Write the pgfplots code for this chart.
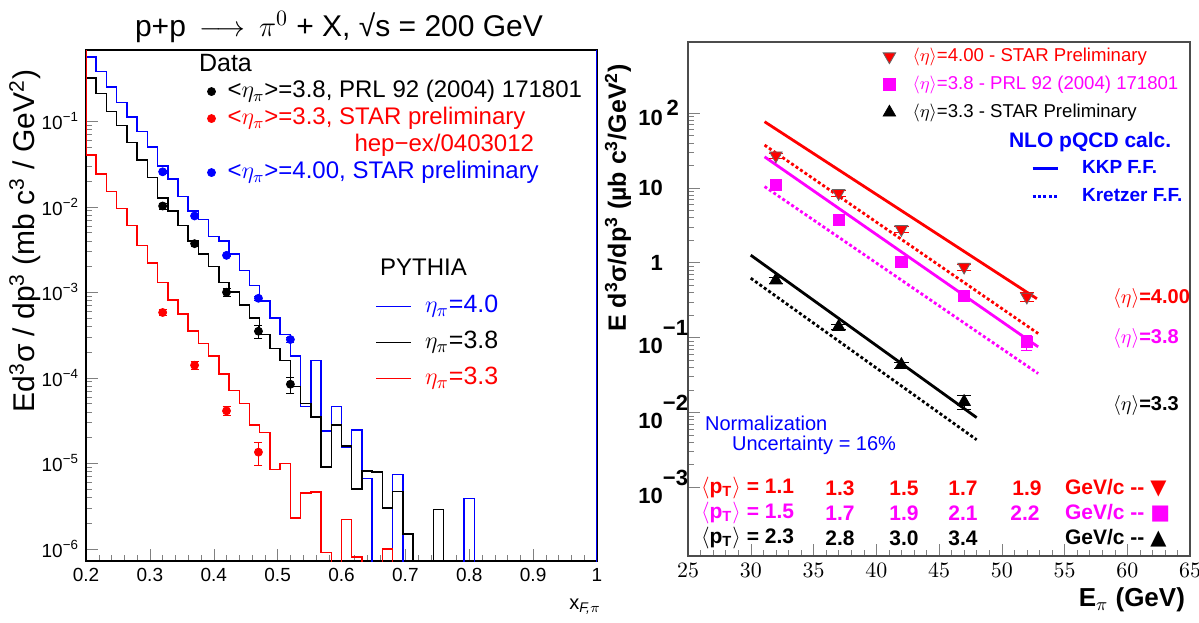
\documentclass[border=0pt]{standalone}
\usepackage{pgfplots}
\pgfplotsset{compat=1.18}
\usepackage{pgfplotstable}
\usepackage{fontspec}
\setmainfont{Liberation Sans}
\newfontfamily\djv{DejaVu Sans}
\definecolor{mag}{RGB}{255,0,255}
\definecolor{rd}{RGB}{255,0,0}
\definecolor{bl}{RGB}{0,0,255}

\pgfplotsset{
  dotleg/.style={legend image code/.code={\draw[##1] plot coordinates {(0pt,0pt)};}},
}

% PYTHIA histograms, left bin edges (bin width 0.016), 1e-9 = empty bin
\pgfplotstableread{
x      blue     black    red
0.184  10       10       10
0.200  0.56     0.32     0.040
0.216  0.38     0.21     0.024
0.232  0.25     0.13     0.015
0.248  0.166    0.089    0.0095
0.264  0.112    0.056    0.0060
0.280  0.076    0.035    0.0035
0.296  0.050    0.022    0.0022
0.312  0.030    0.0126   0.0013
0.328  0.021    0.0089   8.1e-4
0.344  0.0132   0.0060   5.6e-4
0.360  0.0089   0.0040   3.5e-4
0.376  0.0071   0.0028   2.5e-4
0.392  0.0045   0.0020   1.8e-4
0.408  0.0040   0.0013   1.1e-4
0.424  0.0028   0.0010   7.1e-5
0.440  0.0018   7.1e-4   5.0e-5
0.456  0.0012   5.0e-4   2.8e-5
0.472  7.9e-4   3.2e-4   2.3e-5
0.488  5.0e-4   2.2e-4   8.5e-6
0.504  3.2e-4   1.6e-4   1.0e-5
0.520  1.8e-4   7.9e-5   2.3e-6
0.536  4.6e-5   5.0e-5   4.5e-6
0.552  1.6e-4   3.5e-5   4.6e-6
0.568  2.4e-5   9.1e-6   9.0e-7
0.584  4.6e-5   2.8e-5   1e-9
0.600  1.55e-5  1.6e-5   2.2e-6
0.616  2.45e-5  5.0e-6   8.0e-7
0.632  6.6e-6   8.1e-6   1e-9
0.648  1e-9     7.9e-6   1e-9
0.664  1e-9     3.0e-6   1.0e-6
0.680  7.4e-6   4.7e-6   1e-9
0.696  1e-9     1.5e-6   1e-9
0.712  1e-9     1e-9     1e-9
0.728  1e-9     1e-9     1e-9
0.744  1e-9     2.9e-6   1e-9
0.760  1e-9     1e-9     1e-9
0.776  1e-9     1e-9     1e-9
0.792  3.9e-6   1e-9     1e-9
0.808  1e-9     1e-9     1e-9
1.000  10       1e-9     1e-9
1.016  10       1e-9     1e-9
}\hist

\begin{document}
\begin{tikzpicture}[x=0.5pt,y=-0.5pt]
\useasboundingbox (0,0) rectangle (1199,622);

% ---------------- left panel ----------------
\begin{axis}[
  at={(43pt,-280.5pt)}, anchor=south west,
  scale only axis, width=255.5pt, height=255.5pt,
  xmin=0.2, xmax=1, ymode=log, ymin=7.2e-7, ymax=0.68,
  xtick={0.2,0.3,0.4,0.5,0.6,0.7,0.8,0.9,1},
  xticklabels={0.2,0.3,0.4,0.5,0.6,0.7,0.8,0.9,1},
  minor x tick num=4,
  ytick={1e-6,1e-5,1e-4,1e-3,1e-2,1e-1},
  yticklabels={10\textsuperscript{−6},10\textsuperscript{−5},10\textsuperscript{−4},10\textsuperscript{−3},10\textsuperscript{−2},10\textsuperscript{−1}},
  tick align=inside, tick pos=left,
  major tick length=6pt, minor tick length=3pt,
  ticklabel style={font=\fontsize{9.5}{11}\selectfont},
  axis line style={line width=0.6pt},
  legend style={at={(axis description cs:0.237,0.943)}, anchor=north west,
    draw=none, fill=none, inner sep=0pt, font=\fontsize{12}{14}\selectfont, row sep=1.5pt,
    nodes={inner sep=0pt, text height=9pt, text depth=3pt},
    /tikz/every odd column/.append style={column sep=6pt}},
  legend cell align=left,
]
\addplot[blue, line width=0.75pt, const plot mark left, forget plot] table[x=x, y=blue] {\hist};
\addplot[black, line width=0.75pt, const plot mark left, forget plot] table[x=x, y=black] {\hist};
\addplot[red, line width=0.75pt, const plot mark left, forget plot] table[x=x, y=red] {\hist};

\addplot[black, only marks, mark=*, mark size=2pt, dotleg, error bars/.cd, y dir=both, y explicit]
 coordinates {(0.32,1.02e-2) +- (0,0.08e-2) (0.37,3.7e-3) +- (0,0.3e-3) (0.42,1.0e-3) +- (0,0.1e-3)
              (0.47,3.5e-4) +- (0,0.6e-4) (0.52,8.4e-5) +- (0,1.8e-5)};
\addlegendentry{<$\eta_\pi$>=3.8, PRL 92 (2004) 171801}
\addplot[red, only marks, mark=*, mark size=2pt, dotleg, error bars/.cd, y dir=both, y explicit]
 coordinates {(0.32,5.8e-4) +- (0,0.5e-4) (0.37,1.4e-4) +- (0,0.15e-4) (0.42,4.1e-5) +- (0,0.5e-5)
              (0.47,1.35e-5) +- (0,0.4e-5)};
\addlegendentry[text=red]{<$\eta_\pi$>=3.3, STAR preliminary}
\addlegendimage{empty legend}
\addlegendentry[text=red]{\hspace*{63.5pt}hep−ex/0403012}
\addplot[blue, only marks, mark=*, mark size=2pt, dotleg, error bars/.cd, y dir=both, y explicit]
 coordinates {(0.32,0.0256) +- (0,0.001) (0.37,7.8e-3) +- (0,0.3e-3) (0.42,2.7e-3) +- (0,0.1e-3)
              (0.47,8.5e-4) +- (0,0.4e-4) (0.52,2.8e-4) +- (0,0.2e-4)};
\addlegendentry[text=blue]{<$\eta_\pi$>=4.00, STAR preliminary}
\end{axis}

% PYTHIA line legend
\begin{axis}[
  at={(43pt,-280.5pt)}, anchor=south west,
  scale only axis, width=255.5pt, height=255.5pt, hide axis,
  xmin=0, xmax=1, ymin=0, ymax=1,
  legend style={at={(axis description cs:0.566,0.5225)}, anchor=north west,
    draw=none, fill=none, inner sep=0pt, font=\fontsize{12.5}{14}\selectfont, row sep=6pt,
    nodes={inner sep=0pt, text height=9pt, text depth=3pt},
    /tikz/every odd column/.append style={column sep=6.5pt}},
  legend cell align=left,
  legend image code/.code={\draw[#1] (0pt,0pt) -- (17.5pt,0pt);},
]
\addlegendimage{blue, line width=0.75pt}\addlegendentry[text=blue]{$\eta_\pi$=4.0}
\addlegendimage{black, line width=0.75pt}\addlegendentry{$\eta_\pi$=3.8}
\addlegendimage{red, line width=0.75pt}\addlegendentry[text=red]{$\eta_\pi$=3.3}
\end{axis}

\node[font=\fontsize{15}{17}\selectfont] at (339,27) {p+p\, $\longrightarrow$\, $\pi^{0}$ + X, √s = 200 GeV};
\node[anchor=west, font=\fontsize{12.5}{14}\selectfont] at (192,63) {Data};
\node[anchor=west, font=\fontsize{12}{14}\selectfont] at (373,267) {PYTHIA};
\node[rotate=90, font=\fontsize{15}{17}\selectfont] at (25,241) {Ed\textsuperscript{3}σ / dp\textsuperscript{3} (mb c\textsuperscript{3} / GeV\textsuperscript{2})};
\node[anchor=east, font=\fontsize{10}{12}\selectfont] at (608,607) {x\textsubscript{\itshape F,$\pi$}};

% ---------------- right panel ----------------
\begin{axis}[
  at={(344pt,-278pt)}, anchor=south west,
  scale only axis, width=251pt, height=257pt,
  xmin=25, xmax=65, ymode=log, ymin=1.2e-4, ymax=890,
  xtick={25,30,...,65},
  minor x tick num=4,
  ytick={1e-3,1e-2,1e-1,1,10,100},
  yticklabels={{10\rlap{\raisebox{9pt}{−3}}},{10\rlap{\raisebox{9pt}{−2}}},{10\rlap{\raisebox{9pt}{−1}}},1,10,{10\rlap{\raisebox{5pt}{\,2}}}},
  tick align=inside, tick pos=left,
  major tick length=6pt, minor tick length=3pt,
  xticklabel style={font=\bfseries\fontsize{11}{13}\selectfont},
  yticklabel style={font=\bfseries\fontsize{11}{13}\selectfont, xshift=-9pt},
  axis line style={line width=0.8pt, black!70},
  legend style={at={(axis description cs:0.388,0.994)}, anchor=north west,
    draw=none, fill=none, inner sep=0pt, font=\fontsize{9.3}{11}\selectfont, row sep=3pt,
    nodes={inner sep=0pt, text height=8pt, text depth=3pt},
    /tikz/every odd column/.append style={column sep=8.5pt}},
  legend cell align=left,
]
\addplot[rd, line width=1.4pt, forget plot] coordinates {(31.1,76.6) (52.8,0.33)};
\addplot[rd, line width=1.4pt, dash pattern={on 1.5pt off 1.2pt}, forget plot] coordinates {(31.1,37.3) (52.9,0.113)};
\addplot[mag, line width=1.4pt, forget plot] coordinates {(31.1,26) (52.9,0.075)};
\addplot[mag, line width=1.4pt, dash pattern={on 1.5pt off 1.2pt}, forget plot] coordinates {(31.1,10.4) (52.9,0.033)};
\addplot[black, line width=1.4pt, forget plot] coordinates {(30.0,1.26) (48.0,0.0085)};
\addplot[black, line width=1.4pt, dash pattern={on 1.5pt off 1.2pt}, forget plot] coordinates {(30.0,0.62) (48.0,0.0043)};

\addplot[rd, only marks, mark=triangle*, mark size=3.6pt, mark options={rotate=180, draw=black!60}, dotleg, error bars/.cd, y dir=both, y explicit]
 coordinates {(32,27) +- (0,2) (37,8.5) +- (0,0.7) (42,2.8) +- (0,0.25) (47,0.88) +- (0,0.08) (52,0.35) +- (0,0.05)};
\addlegendentry[text=rd]{$\langle\eta\rangle$=4.00 - STAR Preliminary}
\addplot[mag, only marks, mark=square*, mark size=2.8pt, dotleg, error bars/.cd, y dir=both, y explicit]
 coordinates {(32,10.9) +- (0,0.8) (37,3.7) +- (0,0.3) (42,1.03) +- (0,0.08) (47,0.36) +- (0,0.03) (52,0.088) +- (0,0.02)};
\addlegendentry[text=mag]{$\langle\eta\rangle$=3.8 - PRL 92 (2004) 171801}
\addplot[black, only marks, mark=triangle*, mark size=3.6pt, dotleg, error bars/.cd, y dir=both, y explicit]
 coordinates {(32,0.58) +- (0,0.05) (37,0.139) +- (0,0.012) (42,0.043) +- (0,0.004) (47,0.0138) +- (0,0.003)};
\addlegendentry{$\langle\eta\rangle$=3.3 - STAR Preliminary}
\end{axis}

% NLO line legend
\begin{axis}[
  at={(344pt,-278pt)}, anchor=south west,
  scale only axis, width=251pt, height=257pt, hide axis,
  xmin=0, xmax=1, ymin=0, ymax=1,
  legend style={at={(axis description cs:0.683,0.776)}, anchor=north west,
    draw=none, fill=none, inner sep=0pt, font=\bfseries\fontsize{9.5}{12}\selectfont, row sep=3pt,
    nodes={inner sep=0pt, text height=8pt, text depth=3pt},
    /tikz/every odd column/.append style={column sep=11.5pt}},
  legend cell align=left,
  legend image code/.code={\draw[#1] (0pt,0pt) -- (12.5pt,0pt);},
]
\addlegendimage{bl, line width=1.4pt}\addlegendentry[text=bl]{KKP F.F.}
\addlegendimage{bl, line width=1.4pt, dash pattern={on 1.5pt off 1.2pt}}\addlegendentry[text=bl]{Kretzer F.F.}
\end{axis}

\node[anchor=west, bl, font=\bfseries\fontsize{10.5}{12}\selectfont] at (1002,142) {NLO pQCD calc.};
\node[anchor=west, rd, font=\bfseries\fontsize{10}{12}\selectfont] at (1106,298) {$\langle\eta\rangle$=4.00};
\node[anchor=west, mag, font=\bfseries\fontsize{10}{12}\selectfont] at (1106,338) {$\langle\eta\rangle$=3.8};
\node[anchor=west, black, font=\bfseries\fontsize{10}{12}\selectfont] at (1106,405) {$\langle\eta\rangle$=3.3};
\node[anchor=west, bl, font=\fontsize{10}{12}\selectfont] at (698,423) {Normalization};
\node[anchor=west, bl, font=\fontsize{10}{12}\selectfont] at (725,445) {Uncertainty = 16\%};

\begin{scope}[every node/.style={font=\bfseries\fontsize{10.5}{12}\selectfont}]
\node[anchor=west, rd] at (694,488) {$\langle$p\textsubscript{T}$\rangle$ = 1.1};
\node[rd] at (840,488) {1.3};
\node[rd] at (904,488) {1.5};
\node[rd] at (963,488) {1.7};
\node[rd] at (1027,488) {1.9};
\node[anchor=west, rd] at (1058,488) {GeV/c -{}- {\djv ▼}};
\node[anchor=west, mag] at (694,513) {$\langle$p\textsubscript{T}$\rangle$ = 1.5};
\node[mag] at (840,513) {1.7};
\node[mag] at (904,513) {1.9};
\node[mag] at (963,513) {2.1};
\node[mag] at (1025,513) {2.2};
\node[anchor=west, mag] at (1058,513) {GeV/c -{}- {\djv ■}};
\node[anchor=west, black] at (694,538) {$\langle$p\textsubscript{T}$\rangle$ = 2.3};
\node[black] at (840,538) {2.8};
\node[black] at (904,538) {3.0};
\node[black] at (963,538) {3.4};
\node[anchor=west, black] at (1058,538) {GeV/c -{}- {\djv ▲}};
\end{scope}

\node[rotate=90, font=\bfseries\fontsize{12.5}{14}\selectfont] at (618,198) {E d\textsuperscript{3}σ/dp\textsuperscript{3} (µb c\textsuperscript{3}/GeV\textsuperscript{2})};
\node[anchor=east, font=\bfseries\fontsize{13}{15}\selectfont] at (1192,600) {E\textsubscript{$\pi$} (GeV)};
\end{tikzpicture}
\end{document}
